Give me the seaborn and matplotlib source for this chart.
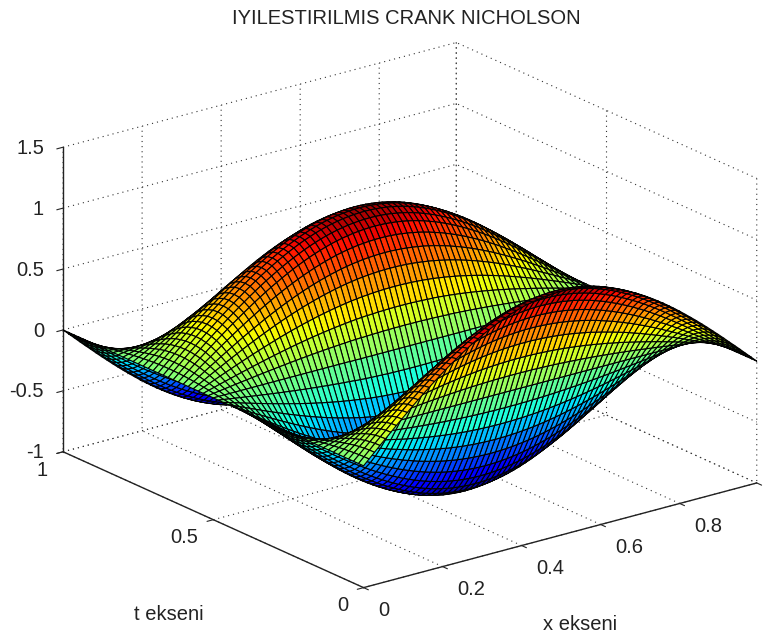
import matplotlib
matplotlib.use('Agg')
import matplotlib.pyplot as plt
import numpy as np
import seaborn as sns

# Degerler
title_text = 'IYILESTIRILMIS CRANK NICHOLSON'
x_end = 0.995
x_ticks = [0, 0.2, 0.4, 0.6, 0.8, x_end]
x_tick_labels = ['0', '0.2', '0.4', '0.6', '0.8', '']
t_ticks = [0, 0.5, 1]
t_tick_labels = ['0', '0.5', '1']
z_ticks = [-1, -0.5, 0, 0.5, 1, 1.5]
z_tick_labels = ['-1', '-0.5', '0', '0.5', '1', '1.5']

# profile along x, read from the ridge of the front hump
x_profile = [0, .044, .087, .131, .174, .216, .259, .301, .342, .383, .423, .462,
             .5, .537, .574, .609, .643, .676, .707, .737, .766, .793, .819, .843,
             .866, .887, .906, .924, .94, .954, .966, .976, .985, .991, .996, .999,
             1, .999, .996, .991, .985, .976, .966, .954, .94, .924, .906, .887,
             .866, .843, .819, .793, .766, .737, .707, .676, .643, .609, .574, .537,
             .5, .462, .423, .383, .342, .301, .259, .216, .174, .131, .087, .044, 0]
# profile along t (61 mesh points), read across the humps and the valleys
t_profile = [1, .988, .951, .891, .809, .707, .588, .454, .309, .156,
             0, -.156, -.309, -.454, -.588, -.707, -.809, -.891, -.951, -.988,
             -1, -.988, -.951, -.891, -.809, -.707, -.588, -.454, -.309, -.156,
             0, .15, .29, .43, .56, .67, .77, .85, .90, .935,
             .945, .935, .90, .85, .77, .67, .56, .43, .29, .15,
             0, -.156, -.309, -.454, -.588, -.707, -.809, -.891, -.951, -.988, -1]

sns.set_theme(style='ticks', rc={'grid.linestyle': (0, (1, 3.6)), 'grid.linewidth': 0.8,
                                 'grid.color': '#333333', 'axes.edgecolor': '#222222',
                                 'axes.linewidth': 1.0})
plt.rcParams['font.family'] = ['Liberation Sans', 'DejaVu Sans']
FS = 14.5
TXT = '#222222'

W, H = 771, 639
fig = plt.figure(figsize=(W / 100, H / 100), dpi=100, facecolor='white')
ax = fig.add_axes([14 / W, -72 / H, 771 / W, 771 / H], projection='3d')
ax.set_proj_type('ortho')
ax.view_init(elev=20.3, azim=-127.5)
ax.set_box_aspect((496, 494, 325), zoom=0.971)

x = np.linspace(0, x_end, len(x_profile))
t = np.linspace(0, 1, len(t_profile))
X, T = np.meshgrid(x, t)
Z = np.outer(t_profile, x_profile)

ax.plot_surface(X, T, Z, rstride=1, cstride=1, cmap='jet',
                vmin=-1, vmax=1, shade=False, edgecolor='black', linewidth=0.8, antialiased=True)

ax.set_xlim(0, x_end)
ax.set_ylim(0, 1)
ax.set_zlim(-1, 1.5)
ax.set_xticks(x_ticks, x_tick_labels, fontsize=FS, color=TXT, ha='left', va='center_baseline')
ax.set_yticks(t_ticks, t_tick_labels, fontsize=FS, color=TXT, ha='right', va='center_baseline')
ax.set_zticks(z_ticks, z_tick_labels, fontsize=FS, color=TXT, ha='right', va='center_baseline')
ax.grid(True)

for axis in (ax.xaxis, ax.yaxis, ax.zaxis):
    axis.set_pane_color((1, 1, 1, 0))
    axis.pane.set_edgecolor('none')
    axis._axinfo['tick']['inward_factor'] = 0
    axis._axinfo['tick']['outward_factor'] = -0.2
    axis._axinfo['tick']['linewidth'] = {True: 0.8, False: 0.8}

ax.tick_params(axis='x', pad=6)
ax.tick_params(axis='z', pad=0)

fig.text(406 / W, 1 - 18 / H, title_text, ha='center', va='center', fontsize=FS, color=TXT)
fig.text(169 / W, 1 - 615 / H, 't ekseni', ha='center', va='center', fontsize=FS, color=TXT)
fig.text(580 / W, 1 - 624 / H, 'x ekseni', ha='center', va='center', fontsize=FS, color=TXT)

fig.savefig('out.png', dpi=100)
